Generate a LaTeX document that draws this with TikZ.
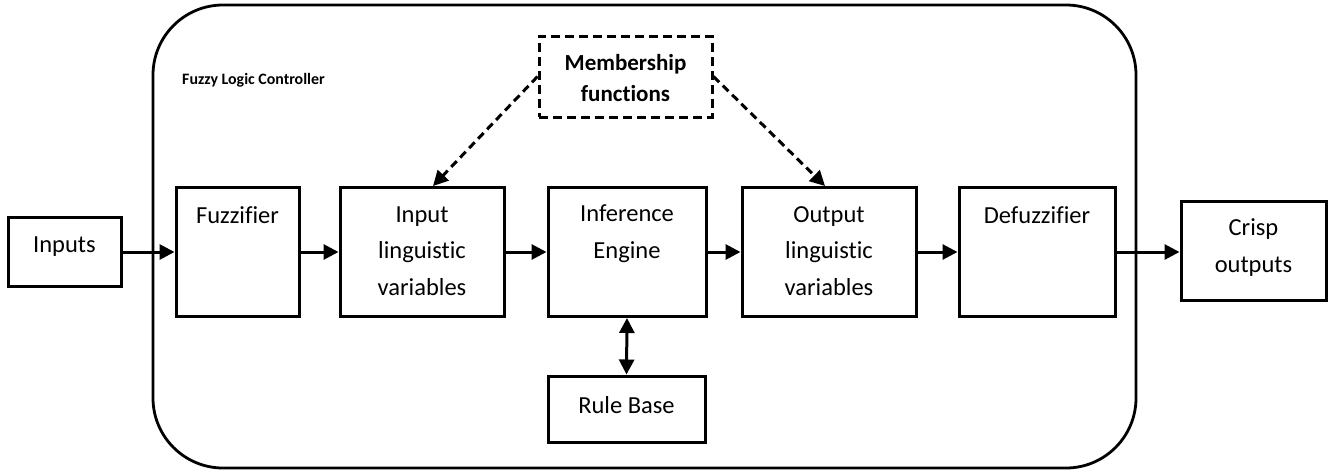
\documentclass[tikz,border=0pt]{standalone}
\usepackage{fontspec}
\setmainfont{Carlito}[Ligatures={NoCommon}]
\usetikzlibrary{arrows.meta}
\begin{document}
\begin{tikzpicture}[x=1pt,y=-1pt,
  tip/.tip={Triangle[length=15pt 0 0,width=15pt 0 0]},
  box/.style={draw, line width=3pt, rectangle, inner sep=0pt},
  txt/.style={align=center, inner sep=0pt, font=\fontsize{24.5}{36.5}\selectfont},
  flow/.style={line width=3pt, -tip},
  dflow/.style={line width=3pt, dash pattern=on 8pt off 5pt, -tip},
]
\useasboundingbox (0,0) rectangle (1330,472);

% controller frame
\draw[line width=2.8pt, rounded corners=70pt] (153,5) rectangle (1136,468);
\node[anchor=west, inner sep=0pt, font=\fontsize{15.9}{18}\selectfont\bfseries] (flc) at (182,80) {Fuzzy Logic Controller};

% blocks
\node[box, minimum width=113pt, minimum height=69pt] (inputs) at (64.5,252) {};
\node[txt] (inputst) at (64.5,247) {Inputs};

\node[box, minimum width=123pt, minimum height=129pt] (fuzz) at (237.5,252) {};
\node[txt] (fuzzt) at (237.5,215) {Fuzzifier};

\node[box, minimum width=164pt, minimum height=129pt] (inlv) at (422,252) {};
\node[txt] (inlvt) at (422,251) {Input\\linguistic\\variables};

\node[box, minimum width=158pt, minimum height=129pt] (inf) at (627,252) {};
\node[txt] (inft) at (627,233.5) {Inference\\Engine};

\node[box, minimum width=174pt, minimum height=129pt] (outlv) at (829,252) {};
\node[txt] (outlvt) at (829,251) {Output\\linguistic\\variables};

\node[box, minimum width=156pt, minimum height=129pt] (defuz) at (1037,252) {};
\node[txt] (defuzt) at (1037,215) {Defuzzifier};

\node[box, minimum width=145pt, minimum height=99pt] (crisp) at (1253.5,250.5) {};
\node[txt] (crispt) at (1253.5,247.5) {Crisp\\outputs};

\node[box, minimum width=157pt, minimum height=66pt] (rule) at (626.5,409) {};
\node[txt] (rulet) at (626.5,405) {Rule Base};

\node[box, dash pattern=on 9pt off 5pt, minimum width=173pt, minimum height=81pt] (memb) at (625.5,76.5) {};
\node[txt, font=\fontsize{23}{31}\selectfont\bfseries] (membt) at (625.5,78) {Membership\\functions};

% signal flow
\draw[flow] (inputs.east) -- (fuzz.west);
\draw[flow] (fuzz.east) -- (inlv.west);
\draw[flow] (inlv.east) -- (inf.west);
\draw[flow] (inf.east) -- (outlv.west);
\draw[flow] (outlv.east) -- (defuz.west);
\draw[flow] (defuz.east) -- (defuz.east -| crisp.west);
\draw[line width=3pt, tip-tip] (inf.south) -- (rule.north);

% membership function links
\draw[dflow] (memb.west) -- ([xshift=11pt]inlv.north);
\draw[dflow] (memb.east) -- ([xshift=-4pt]outlv.north);
\end{tikzpicture}
\end{document}
